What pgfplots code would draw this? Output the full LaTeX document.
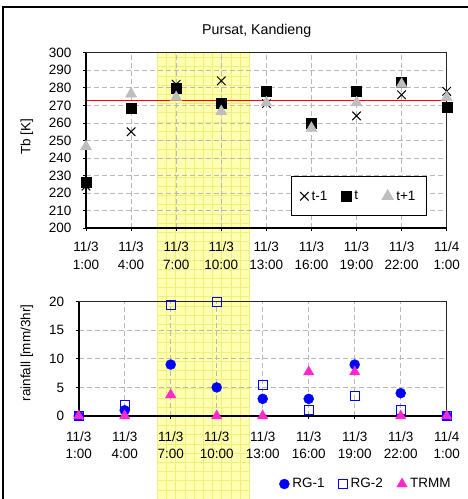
\documentclass[border=0pt]{standalone}
\usepackage{pgfplots}
\usepackage{pgfplotstable}
\pgfplotsset{compat=1.18}
\usepackage{fontspec}
\setmainfont{Liberation Sans}
\definecolor{tgray}{RGB}{190,190,190}
\definecolor{tmag}{RGB}{255,40,204}
\definecolor{yfill}{RGB}{255,255,178}
\definecolor{yline}{RGB}{240,240,120}
\definecolor{gridc}{RGB}{185,185,185}
\newcommand\fs{\fontsize{13.5bp}{17.5bp}\selectfont}

\pgfplotstableread{
x tm1 t tp1
0 224 226 246.5
1 255 268.5 276.5
2 282 280 274.5
3 284 271.5 266.5
4 271 278 271.5
5 259 260 257
6 264 278 271.5
7 276 283 282
8 278 269 274.5
}\tbdata

\pgfplotstableread{
x rg1 rg2 trmm
0 0 0 0
1 1 2 0
2 9 19.5 3.7
3 5 20 0
4 3 5.5 0
5 3 1 7.7
6 9 3.5 7.7
7 4 1 0
8 0 0 0
}\rfdata

\pgfplotsset{
  common/.style={
    scale only axis,
    anchor=south west,
    xmin=0, xmax=8,
    xtick={0,...,8},
    xticklabels={{11/3\\1:00},{11/3\\4:00},{11/3\\7:00},{11/3\\10:00},{11/3\\13:00},{11/3\\16:00},{11/3\\19:00},{11/3\\22:00},{11/4\\1:00}},
    xticklabel style={align=center, font=\fs},
    yticklabel style={font=\fs, xshift=-8bp},
    /pgf/number format/assume math mode=true,
    label style={font=\fs},
    grid=major,
    major grid style={dashed, gridc, line width=0.7bp, dash pattern=on 5bp off 3bp},
    axis line style={line width=1bp, black!85},
    tick pos=left,
    tick align=outside,
    major tick length=3bp,
    tick style={black, line width=0.8bp},
    clip=false,
    legend style={font=\fs},
  }
}

\begin{document}
\begin{tikzpicture}[x=1bp,y=1bp]
\useasboundingbox (0,0) rectangle (468,499);
\fill[yfill] (157.3,0) rectangle (249.3,447.3);
\begin{scope}[shift={(157.3,0)}]
\draw[yline, line width=0.5bp, step=9.2bp] (0,0) grid (92,447.3);
\end{scope}
\draw[line width=2bp] (3,0) -- (3,492) -- (468,492);
\node[font=\fontsize{14.2bp}{17bp}\selectfont] at (256.7,468.3) {Pursat, Kandieng};

\begin{axis}[common,
  at={(86bp,270.7bp)}, width=360.7bp, height=175.6bp,
  ymin=200, ymax=300, ytick={200,210,...,300},
  ylabel={Tb [K]},
  ylabel style={at={(axis description cs:-0.164,0.52)}, anchor=center},
  xticklabel style={yshift=-7bp},
  legend style={at={(0.945,0.07)}, anchor=south east, draw=black, line width=0.8bp, legend columns=3,
    /tikz/every odd column/.append style={column sep=1bp},
    /tikz/column 2/.style={column sep=12bp},
    /tikz/column 4/.style={column sep=22bp},
    inner xsep=9bp, inner ysep=12bp},
]
\addplot[red, line width=1bp, forget plot] coordinates {(0,273) (8,273)};
\addplot[only marks, mark=x, mark size=6bp, black, line width=1bp] table[x=x, y=tm1] {\tbdata};
\addlegendentry{t-1}
\addplot[only marks, mark=square*, mark size=5bp, black] table[x=x, y=t] {\tbdata};
\addlegendentry{t}
\addplot[only marks, mark=triangle*, mark size=6.5bp, tgray, mark options={draw=tgray, fill=tgray}] table[x=x, y=tp1] {\tbdata};
\addlegendentry{t+1}
\draw[line width=1.8bp] (rel axis cs:0,1) -- (rel axis cs:0,0) -- (rel axis cs:1,0);
\end{axis}

\begin{axis}[common,
  at={(78.7bp,83bp)}, width=368bp, height=114.3bp,
  ymin=0, ymax=20, ytick={0,5,...,20},
  ylabel={rainfall [mm/3hr]},
  ylabel style={at={(axis description cs:-0.141,0.551)}, anchor=center},
  xticklabel style={yshift=-9bp},
  legend style={at={(1.025,-0.595)}, anchor=east, draw=none, fill=none, legend columns=3,
    /tikz/every odd column/.append style={column sep=1bp},
    /tikz/every even column/.append style={column sep=12bp}},
]
\addplot[only marks, mark=*, mark size=5bp, blue, mark options={draw=blue, fill=blue}] table[x=x, y=rg1] {\rfdata};
\addlegendentry{RG-1}
\addplot[only marks, mark=square, mark size=4.5bp, blue, line width=1.1bp] table[x=x, y=rg2] {\rfdata};
\addlegendentry{RG-2}
\addplot[only marks, mark=triangle*, mark size=6bp, tmag, mark options={draw=tmag, fill=tmag}] table[x=x, y=trmm] {\rfdata};
\addlegendentry{TRMM}
\draw[line width=1.8bp] (rel axis cs:0,1) -- (rel axis cs:0,0) -- (rel axis cs:1,0);
\end{axis}
\end{tikzpicture}
\end{document}
